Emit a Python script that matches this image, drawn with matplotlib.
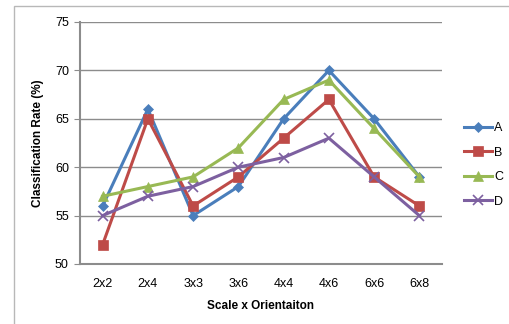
import matplotlib.pyplot as plt
from matplotlib.patches import Rectangle

categories = ['2x2', '2x4', '3x3', '3x6', '4x4', '4x6', '6x6', '6x8']
series_a = [56, 66, 55, 58, 65, 70, 65, 59]
series_b = [52, 65, 56, 59, 63, 67, 59, 56]
series_c = [57, 58, 59, 62, 67, 69, 64, 59]
series_d = [55, 57, 58, 60, 61, 63, 59, 55]
names = ['A', 'B', 'C', 'D']

plt.rcParams['font.family'] = ['Liberation Sans', 'DejaVu Sans']

fig = plt.figure(figsize=(5.1, 3.24), dpi=100)
fig.patches.append(Rectangle((14/510, -0.1), 1.0, 1 - 6/324 + 0.1, transform=fig.transFigure,
                             fill=False, edgecolor='#b8b8b8', lw=1.0))
ax = fig.add_axes([80/510, 1 - 264/324, 362/510, 242/324])

x = range(len(categories))
styles = [('#4a7ebb', 'D', 5.5), ('#be4b48', 's', 7), ('#98b954', '^', 7), ('#7d60a0', 'x', 7)]
for vals, name, (c, m, ms) in zip([series_a, series_b, series_c, series_d], names, styles):
    ax.plot(x, vals, color=c, marker=m, markersize=ms, lw=2.2, label=name,
            markeredgewidth=1.2 if m == 'x' else 0.5, markeredgecolor=c)

ax.set_xlim(-0.5, 7.5)
ax.set_ylim(50, 75)
ax.set_yticks([50, 55, 60, 65, 70, 75])
ax.set_xticks(list(x))
ax.set_xticklabels(categories)
ax.yaxis.grid(True, color='#8c8c8c', lw=1.0)
ax.set_axisbelow(True)
for s in ['top', 'right']:
    ax.spines[s].set_visible(False)
for s in ['left', 'bottom']:
    ax.spines[s].set_color('#8c8c8c')
    ax.spines[s].set_linewidth(1.5)
ax.tick_params(axis='y', length=4, color='#8c8c8c', labelsize=9, pad=4)
ax.tick_params(axis='x', length=0, labelsize=9, pad=10)
ax.set_xlabel('Scale x Orientaiton', fontsize=8.5, fontweight='bold', labelpad=7)
ax.set_ylabel('Classification Rate (%)', fontsize=8.5, fontweight='bold', labelpad=8)

ax.legend(loc='center left', bbox_to_anchor=(1.03, 0.41), frameon=False, fontsize=9,
          handlelength=2.2, labelspacing=1.0, handletextpad=0.2)

fig.savefig('out.png', dpi=100)
